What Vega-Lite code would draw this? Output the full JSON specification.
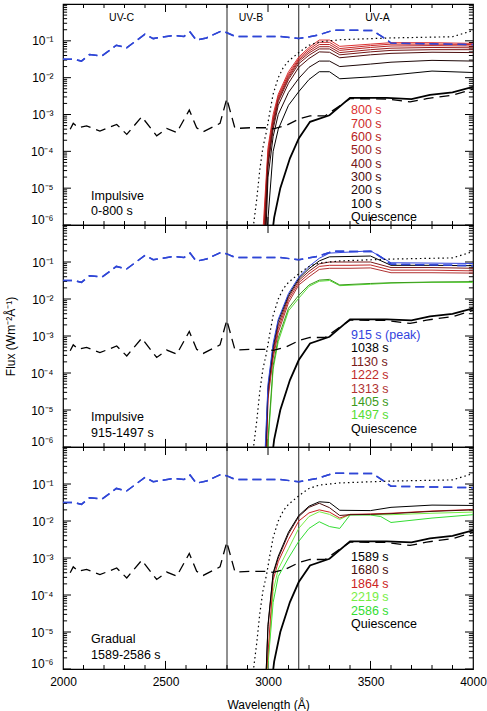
{
"$schema": "https://vega.github.io/schema/vega-lite/v6.json",
"padding": {"left": 3, "top": 2, "right": 0, "bottom": 0},
"background": "white",
"config": {"font": "Liberation Sans", "view": {"stroke": "black", "strokeWidth": 1.2}, "text": {"font": "Liberation Sans"}},
"spacing": 0,
"bounds": "flush",
"datasets": {
"rules": [{"wl": 2800}, {"wl": 3150}],
"ymaj": [{"v":1e-6},{"v":1e-5},{"v":1e-4},{"v":1e-3},{"v":0.01},{"v":0.1}],
"ymin": [{"v":2e-6},{"v":3e-6},{"v":4e-6},{"v":5e-6},{"v":6e-6},{"v":7e-6},{"v":8e-6},{"v":9e-6},{"v":2e-5},{"v":3e-5},{"v":4e-5},{"v":5e-5},{"v":6e-5},{"v":7e-5},{"v":8e-5},{"v":9e-5},{"v":2e-4},{"v":3e-4},{"v":4e-4},{"v":5e-4},{"v":6e-4},{"v":7e-4},{"v":8e-4},{"v":9e-4},{"v":2e-3},{"v":3e-3},{"v":4e-3},{"v":5e-3},{"v":6e-3},{"v":7e-3},{"v":8e-3},{"v":9e-3},{"v":0.02},{"v":0.03},{"v":0.04},{"v":0.05},{"v":0.06},{"v":0.07},{"v":0.08},{"v":0.09},{"v":0.2},{"v":0.3},{"v":0.4},{"v":0.5},{"v":0.6},{"v":0.7},{"v":0.8},{"v":0.9}],
"xmaj": [{"v":2500},{"v":3000},{"v":3500}],
"xmin": [{"v":2100},{"v":2200},{"v":2300},{"v":2400},{"v":2600},{"v":2700},{"v":2800},{"v":2900},{"v":3100},{"v":3200},{"v":3300},{"v":3400},{"v":3600},{"v":3700},{"v":3800},{"v":3900}],
"uv": [{"txt": "UV-C", "wl": 2286, "flux": 0.417}, {"txt": "UV-B", "wl": 2917, "flux": 0.417}, {"txt": "UV-A", "wl": 3534, "flux": 0.417}],
"blue": [{"wl":2000,"flux":0.0316},{"wl":2050,"flux":0.0316},{"wl":2090,"flux":0.0282},{"wl":2130,"flux":0.0427},{"wl":2190,"flux":0.0389},{"wl":2260,"flux":0.0759},{"wl":2310,"flux":0.0646},{"wl":2400,"flux":0.151},{"wl":2440,"flux":0.115},{"wl":2540,"flux":0.141},{"wl":2590,"flux":0.132},{"wl":2620,"flux":0.174},{"wl":2650,"flux":0.105},{"wl":2700,"flux":0.12},{"wl":2770,"flux":0.182},{"wl":2800,"flux":0.166},{"wl":2840,"flux":0.132},{"wl":2900,"flux":0.132},{"wl":3060,"flux":0.132},{"wl":3150,"flux":0.115},{"wl":3240,"flux":0.141},{"wl":3320,"flux":0.195},{"wl":3510,"flux":0.191},{"wl":3560,"flux":0.126},{"wl":3600,"flux":0.0871},{"wl":4000,"flux":0.0794}],
"bdash": [{"wl":2035,"flux":3.98e-4},{"wl":2050,"flux":5.75e-4},{"wl":2075,"flux":4.37e-4},{"wl":2115,"flux":4.9e-4},{"wl":2180,"flux":3.55e-4},{"wl":2262,"flux":5.37e-4},{"wl":2311,"flux":2.88e-4},{"wl":2384,"flux":8.71e-4},{"wl":2457,"flux":2.63e-4},{"wl":2506,"flux":4.17e-4},{"wl":2555,"flux":3.24e-4},{"wl":2616,"flux":1.32e-3},{"wl":2652,"flux":4.37e-4},{"wl":2684,"flux":3.39e-4},{"wl":2766,"flux":5.75e-4},{"wl":2799,"flux":2.69e-3},{"wl":2839,"flux":4.17e-4},{"wl":2912,"flux":4.37e-4},{"wl":2993,"flux":4.37e-4},{"wl":3026,"flux":4.07e-4},{"wl":3091,"flux":5.13e-4},{"wl":3156,"flux":7.76e-4},{"wl":3205,"flux":9.12e-4},{"wl":3278,"flux":9.12e-4},{"wl":3400,"flux":2.69e-3},{"wl":3579,"flux":2.63e-3},{"wl":3693,"flux":2.19e-3},{"wl":3774,"flux":2.69e-3},{"wl":3904,"flux":3.39e-3},{"wl":4000,"flux":4.9e-3}],
"dotted": [{"wl":2925,"flux":6.31e-7},{"wl":2945,"flux":5.01e-6},{"wl":2960,"flux":3.16e-5},{"wl":2975,"flux":1.26e-4},{"wl":2993,"flux":3.55e-4},{"wl":3010,"flux":1.26e-3},{"wl":3025,"flux":3.55e-3},{"wl":3050,"flux":0.01},{"wl":3075,"flux":0.0191},{"wl":3100,"flux":0.0282},{"wl":3150,"flux":0.0479},{"wl":3200,"flux":0.0759},{"wl":3250,"flux":0.0933},{"wl":3350,"flux":0.107},{"wl":3600,"flux":0.12},{"wl":3900,"flux":0.129},{"wl":4000,"flux":0.191}],
"quiet": [{"wl":3015,"flux":3.16e-7},{"wl":3030,"flux":1.58e-6},{"wl":3060,"flux":1e-5},{"wl":3107,"flux":6.46e-5},{"wl":3150,"flux":2.24e-4},{"wl":3205,"flux":6.31e-4},{"wl":3300,"flux":9.55e-4},{"wl":3400,"flux":2.82e-3},{"wl":3580,"flux":2.82e-3},{"wl":3700,"flux":2.63e-3},{"wl":3790,"flux":3.39e-3},{"wl":3900,"flux":3.98e-3},{"wl":4000,"flux":5.62e-3}],
"s1": [
{"t":"800 s","wl":2975,"flux":6.31e-7},{"t":"800 s","wl":3000,"flux":1.26e-4},{"t":"800 s","wl":3025,"flux":1e-3},{"t":"800 s","wl":3050,"flux":3.55e-3},{"t":"800 s","wl":3100,"flux":0.0145},{"t":"800 s","wl":3150,"flux":0.0363},{"t":"800 s","wl":3200,"flux":0.0661},{"t":"800 s","wl":3250,"flux":0.105},{"t":"800 s","wl":3300,"flux":0.105},{"t":"800 s","wl":3350,"flux":0.0708},{"t":"800 s","wl":3500,"flux":0.0813},{"t":"800 s","wl":3600,"flux":0.0891},{"t":"800 s","wl":3800,"flux":0.0891},{"t":"800 s","wl":4000,"flux":0.0851},
{"t":"700 s","wl":2978,"flux":6.31e-7},{"t":"700 s","wl":3000,"flux":1e-4},{"t":"700 s","wl":3025,"flux":7.94e-4},{"t":"700 s","wl":3050,"flux":3.16e-3},{"t":"700 s","wl":3100,"flux":0.0126},{"t":"700 s","wl":3150,"flux":0.0331},{"t":"700 s","wl":3200,"flux":0.0589},{"t":"700 s","wl":3250,"flux":0.0912},{"t":"700 s","wl":3300,"flux":0.0912},{"t":"700 s","wl":3350,"flux":0.0617},{"t":"700 s","wl":3500,"flux":0.0741},{"t":"700 s","wl":3600,"flux":0.0813},{"t":"700 s","wl":3800,"flux":0.0813},{"t":"700 s","wl":4000,"flux":0.0794},
{"t":"600 s","wl":2980,"flux":6.31e-7},{"t":"600 s","wl":3000,"flux":7.94e-5},{"t":"600 s","wl":3025,"flux":7.08e-4},{"t":"600 s","wl":3050,"flux":2.82e-3},{"t":"600 s","wl":3100,"flux":0.0112},{"t":"600 s","wl":3150,"flux":0.0302},{"t":"600 s","wl":3200,"flux":0.0525},{"t":"600 s","wl":3250,"flux":0.0794},{"t":"600 s","wl":3300,"flux":0.0794},{"t":"600 s","wl":3350,"flux":0.055},{"t":"600 s","wl":3500,"flux":0.0661},{"t":"600 s","wl":3600,"flux":0.0724},{"t":"600 s","wl":3800,"flux":0.0741},{"t":"600 s","wl":4000,"flux":0.0724},
{"t":"500 s","wl":2982,"flux":6.31e-7},{"t":"500 s","wl":3000,"flux":6.31e-5},{"t":"500 s","wl":3025,"flux":6.31e-4},{"t":"500 s","wl":3050,"flux":2.51e-3},{"t":"500 s","wl":3100,"flux":0.01},{"t":"500 s","wl":3150,"flux":0.0275},{"t":"500 s","wl":3200,"flux":0.0468},{"t":"500 s","wl":3250,"flux":0.0692},{"t":"500 s","wl":3300,"flux":0.0692},{"t":"500 s","wl":3350,"flux":0.0479},{"t":"500 s","wl":3500,"flux":0.0575},{"t":"500 s","wl":3600,"flux":0.0631},{"t":"500 s","wl":3800,"flux":0.0661},{"t":"500 s","wl":4000,"flux":0.0646},
{"t":"400 s","wl":2984,"flux":6.31e-7},{"t":"400 s","wl":3000,"flux":5.01e-5},{"t":"400 s","wl":3025,"flux":5.01e-4},{"t":"400 s","wl":3050,"flux":2.24e-3},{"t":"400 s","wl":3100,"flux":8.91e-3},{"t":"400 s","wl":3150,"flux":0.024},{"t":"400 s","wl":3200,"flux":0.0407},{"t":"400 s","wl":3250,"flux":0.0603},{"t":"400 s","wl":3300,"flux":0.0603},{"t":"400 s","wl":3350,"flux":0.0417},{"t":"400 s","wl":3500,"flux":0.0501},{"t":"400 s","wl":3600,"flux":0.055},{"t":"400 s","wl":3800,"flux":0.0575},{"t":"400 s","wl":4000,"flux":0.0575},
{"t":"300 s","wl":2986,"flux":6.31e-7},{"t":"300 s","wl":3000,"flux":3.98e-5},{"t":"300 s","wl":3025,"flux":3.98e-4},{"t":"300 s","wl":3050,"flux":1.78e-3},{"t":"300 s","wl":3100,"flux":7.08e-3},{"t":"300 s","wl":3150,"flux":0.0191},{"t":"300 s","wl":3200,"flux":0.0331},{"t":"300 s","wl":3250,"flux":0.0501},{"t":"300 s","wl":3300,"flux":0.049},{"t":"300 s","wl":3350,"flux":0.0347},{"t":"300 s","wl":3500,"flux":0.0417},{"t":"300 s","wl":3600,"flux":0.0457},{"t":"300 s","wl":3800,"flux":0.049},{"t":"300 s","wl":4000,"flux":0.0479},
{"t":"200 s","wl":2990,"flux":6.31e-7},{"t":"200 s","wl":3000,"flux":2e-5},{"t":"200 s","wl":3025,"flux":2.51e-4},{"t":"200 s","wl":3050,"flux":1e-3},{"t":"200 s","wl":3100,"flux":3.98e-3},{"t":"200 s","wl":3150,"flux":9.55e-3},{"t":"200 s","wl":3200,"flux":0.0191},{"t":"200 s","wl":3250,"flux":0.0282},{"t":"200 s","wl":3300,"flux":0.0282},{"t":"200 s","wl":3350,"flux":0.02},{"t":"200 s","wl":3500,"flux":0.0234},{"t":"200 s","wl":3600,"flux":0.0263},{"t":"200 s","wl":3800,"flux":0.0295},{"t":"200 s","wl":4000,"flux":0.0282},
{"t":"100 s","wl":2995,"flux":6.31e-7},{"t":"100 s","wl":3025,"flux":1e-4},{"t":"100 s","wl":3050,"flux":3.98e-4},{"t":"100 s","wl":3100,"flux":1.78e-3},{"t":"100 s","wl":3150,"flux":4.17e-3},{"t":"100 s","wl":3200,"flux":8.91e-3},{"t":"100 s","wl":3250,"flux":0.0145},{"t":"100 s","wl":3300,"flux":0.0145},{"t":"100 s","wl":3350,"flux":9.33e-3},{"t":"100 s","wl":3500,"flux":0.0105},{"t":"100 s","wl":3600,"flux":0.0117},{"t":"100 s","wl":3800,"flux":0.0151},{"t":"100 s","wl":4000,"flux":0.0138}
],
"s2": [
{"t":"1497 s","wl":2997,"flux":6.31e-7},{"t":"1497 s","wl":3025,"flux":1.26e-4},{"t":"1497 s","wl":3050,"flux":7.08e-4},{"t":"1497 s","wl":3100,"flux":4.79e-3},{"t":"1497 s","wl":3150,"flux":0.0105},{"t":"1497 s","wl":3200,"flux":0.0219},{"t":"1497 s","wl":3250,"flux":0.0302},{"t":"1497 s","wl":3300,"flux":0.0316},{"t":"1497 s","wl":3350,"flux":0.0229},{"t":"1497 s","wl":3500,"flux":0.0251},{"t":"1497 s","wl":3600,"flux":0.0269},{"t":"1497 s","wl":3800,"flux":0.0282},{"t":"1497 s","wl":4000,"flux":0.0282},
{"t":"1405 s","wl":2995,"flux":6.31e-7},{"t":"1405 s","wl":3025,"flux":1.58e-4},{"t":"1405 s","wl":3050,"flux":8.91e-4},{"t":"1405 s","wl":3100,"flux":5.62e-3},{"t":"1405 s","wl":3150,"flux":0.0126},{"t":"1405 s","wl":3200,"flux":0.024},{"t":"1405 s","wl":3250,"flux":0.0324},{"t":"1405 s","wl":3300,"flux":0.0339},{"t":"1405 s","wl":3350,"flux":0.024},{"t":"1405 s","wl":3500,"flux":0.0263},{"t":"1405 s","wl":3600,"flux":0.0275},{"t":"1405 s","wl":3800,"flux":0.0288},{"t":"1405 s","wl":4000,"flux":0.0295},
{"t":"1313 s","wl":2993,"flux":6.31e-7},{"t":"1313 s","wl":3000,"flux":2e-5},{"t":"1313 s","wl":3025,"flux":2.51e-4},{"t":"1313 s","wl":3050,"flux":1.26e-3},{"t":"1313 s","wl":3100,"flux":7.94e-3},{"t":"1313 s","wl":3150,"flux":0.024},{"t":"1313 s","wl":3200,"flux":0.0398},{"t":"1313 s","wl":3250,"flux":0.0631},{"t":"1313 s","wl":3300,"flux":0.0676},{"t":"1313 s","wl":3400,"flux":0.0676},{"t":"1313 s","wl":3500,"flux":0.0692},{"t":"1313 s","wl":3600,"flux":0.0513},{"t":"1313 s","wl":3800,"flux":0.0513},{"t":"1313 s","wl":4000,"flux":0.0501},
{"t":"1222 s","wl":2991,"flux":6.31e-7},{"t":"1222 s","wl":3000,"flux":2.51e-5},{"t":"1222 s","wl":3025,"flux":3.16e-4},{"t":"1222 s","wl":3050,"flux":1.58e-3},{"t":"1222 s","wl":3100,"flux":9.55e-3},{"t":"1222 s","wl":3150,"flux":0.0275},{"t":"1222 s","wl":3200,"flux":0.0479},{"t":"1222 s","wl":3250,"flux":0.0759},{"t":"1222 s","wl":3300,"flux":0.0813},{"t":"1222 s","wl":3400,"flux":0.0813},{"t":"1222 s","wl":3500,"flux":0.0832},{"t":"1222 s","wl":3600,"flux":0.0603},{"t":"1222 s","wl":3800,"flux":0.0603},{"t":"1222 s","wl":4000,"flux":0.0575},
{"t":"1130 s","wl":2989,"flux":6.31e-7},{"t":"1130 s","wl":3000,"flux":3.16e-5},{"t":"1130 s","wl":3025,"flux":3.98e-4},{"t":"1130 s","wl":3050,"flux":2e-3},{"t":"1130 s","wl":3100,"flux":0.0112},{"t":"1130 s","wl":3150,"flux":0.0316},{"t":"1130 s","wl":3200,"flux":0.0562},{"t":"1130 s","wl":3250,"flux":0.0891},{"t":"1130 s","wl":3300,"flux":0.1},{"t":"1130 s","wl":3400,"flux":0.1},{"t":"1130 s","wl":3500,"flux":0.1},{"t":"1130 s","wl":3600,"flux":0.0708},{"t":"1130 s","wl":3800,"flux":0.0708},{"t":"1130 s","wl":4000,"flux":0.0676},
{"t":"1038 s","wl":2987,"flux":6.31e-7},{"t":"1038 s","wl":3000,"flux":3.98e-5},{"t":"1038 s","wl":3025,"flux":5.01e-4},{"t":"1038 s","wl":3050,"flux":2.51e-3},{"t":"1038 s","wl":3100,"flux":0.0126},{"t":"1038 s","wl":3150,"flux":0.0355},{"t":"1038 s","wl":3200,"flux":0.0661},{"t":"1038 s","wl":3250,"flux":0.107},{"t":"1038 s","wl":3300,"flux":0.138},{"t":"1038 s","wl":3400,"flux":0.141},{"t":"1038 s","wl":3500,"flux":0.145},{"t":"1038 s","wl":3600,"flux":0.0813},{"t":"1038 s","wl":3800,"flux":0.0813},{"t":"1038 s","wl":4000,"flux":0.0794},
{"t":"915 s (peak)","wl":2985,"flux":6.31e-7},{"t":"915 s (peak)","wl":3000,"flux":5.01e-5},{"t":"915 s (peak)","wl":3025,"flux":6.31e-4},{"t":"915 s (peak)","wl":3050,"flux":2.82e-3},{"t":"915 s (peak)","wl":3100,"flux":0.0141},{"t":"915 s (peak)","wl":3150,"flux":0.0389},{"t":"915 s (peak)","wl":3200,"flux":0.0759},{"t":"915 s (peak)","wl":3250,"flux":0.126},{"t":"915 s (peak)","wl":3300,"flux":0.174},{"t":"915 s (peak)","wl":3400,"flux":0.186},{"t":"915 s (peak)","wl":3500,"flux":0.2},{"t":"915 s (peak)","wl":3600,"flux":0.0955},{"t":"915 s (peak)","wl":3800,"flux":0.0933},{"t":"915 s (peak)","wl":4000,"flux":0.0912}
],
"s3": [
{"t":"2586 s","wl":2995,"flux":6.31e-7},{"t":"2586 s","wl":3025,"flux":6.31e-5},{"t":"2586 s","wl":3050,"flux":3.16e-4},{"t":"2586 s","wl":3100,"flux":1e-3},{"t":"2586 s","wl":3150,"flux":2.82e-3},{"t":"2586 s","wl":3200,"flux":6.31e-3},{"t":"2586 s","wl":3250,"flux":9.55e-3},{"t":"2586 s","wl":3300,"flux":7.08e-3},{"t":"2586 s","wl":3350,"flux":6.31e-3},{"t":"2586 s","wl":3400,"flux":0.0145},{"t":"2586 s","wl":3500,"flux":0.0145},{"t":"2586 s","wl":3550,"flux":0.0132},{"t":"2586 s","wl":3600,"flux":9.12e-3},{"t":"2586 s","wl":3800,"flux":0.012},{"t":"2586 s","wl":4000,"flux":0.0148},
{"t":"2219 s","wl":2994,"flux":6.31e-7},{"t":"2219 s","wl":3025,"flux":1.26e-4},{"t":"2219 s","wl":3050,"flux":5.01e-4},{"t":"2219 s","wl":3100,"flux":1.78e-3},{"t":"2219 s","wl":3150,"flux":6.31e-3},{"t":"2219 s","wl":3200,"flux":0.0132},{"t":"2219 s","wl":3250,"flux":0.0178},{"t":"2219 s","wl":3300,"flux":0.0151},{"t":"2219 s","wl":3350,"flux":0.011},{"t":"2219 s","wl":3400,"flux":0.0151},{"t":"2219 s","wl":3500,"flux":0.0148},{"t":"2219 s","wl":3600,"flux":0.0148},{"t":"2219 s","wl":3800,"flux":0.0162},{"t":"2219 s","wl":4000,"flux":0.0174},
{"t":"1864 s","wl":2992,"flux":6.31e-7},{"t":"1864 s","wl":3025,"flux":2.51e-4},{"t":"1864 s","wl":3050,"flux":7.94e-4},{"t":"1864 s","wl":3100,"flux":3.16e-3},{"t":"1864 s","wl":3150,"flux":0.01},{"t":"1864 s","wl":3200,"flux":0.0166},{"t":"1864 s","wl":3250,"flux":0.02},{"t":"1864 s","wl":3300,"flux":0.0174},{"t":"1864 s","wl":3350,"flux":0.012},{"t":"1864 s","wl":3400,"flux":0.0151},{"t":"1864 s","wl":3500,"flux":0.0155},{"t":"1864 s","wl":3600,"flux":0.0162},{"t":"1864 s","wl":3800,"flux":0.0186},{"t":"1864 s","wl":4000,"flux":0.0204},
{"t":"1680 s","wl":2990,"flux":6.31e-7},{"t":"1680 s","wl":3000,"flux":1.41e-5},{"t":"1680 s","wl":3025,"flux":3.55e-4},{"t":"1680 s","wl":3050,"flux":1e-3},{"t":"1680 s","wl":3100,"flux":4.47e-3},{"t":"1680 s","wl":3150,"flux":0.0132},{"t":"1680 s","wl":3200,"flux":0.0234},{"t":"1680 s","wl":3250,"flux":0.0302},{"t":"1680 s","wl":3300,"flux":0.0229},{"t":"1680 s","wl":3350,"flux":0.0141},{"t":"1680 s","wl":3400,"flux":0.0148},{"t":"1680 s","wl":3500,"flux":0.0151},{"t":"1680 s","wl":3600,"flux":0.0158},{"t":"1680 s","wl":3800,"flux":0.0182},{"t":"1680 s","wl":4000,"flux":0.02},
{"t":"1589 s","wl":2990,"flux":6.31e-7},{"t":"1589 s","wl":3000,"flux":1.58e-5},{"t":"1589 s","wl":3025,"flux":3.98e-4},{"t":"1589 s","wl":3050,"flux":1.12e-3},{"t":"1589 s","wl":3100,"flux":5.01e-3},{"t":"1589 s","wl":3150,"flux":0.0141},{"t":"1589 s","wl":3200,"flux":0.0251},{"t":"1589 s","wl":3250,"flux":0.0331},{"t":"1589 s","wl":3300,"flux":0.0316},{"t":"1589 s","wl":3350,"flux":0.0195},{"t":"1589 s","wl":3500,"flux":0.0191},{"t":"1589 s","wl":3600,"flux":0.0234},{"t":"1589 s","wl":3800,"flux":0.0269},{"t":"1589 s","wl":4000,"flux":0.0263}
],
"lab1": [{"t":"800 s","wl":3405,"flux":1.35e-3},{"t":"700 s","wl":3405,"flux":5.62e-4},{"t":"600 s","wl":3405,"flux":2.51e-4},{"t":"500 s","wl":3405,"flux":1.1e-4},{"t":"400 s","wl":3405,"flux":4.57e-5},{"t":"300 s","wl":3405,"flux":2.04e-5},{"t":"200 s","wl":3405,"flux":9.12e-6},{"t":"100 s","wl":3405,"flux":3.8e-6},{"t":"Quiescence","wl":3405,"flux":1.7e-6}],
"lab2": [{"t":"915 s (peak)","wl":3405,"flux":1.07e-3},{"t":"1038 s","wl":3405,"flux":4.68e-4},{"t":"1130 s","wl":3405,"flux":2.04e-4},{"t":"1222 s","wl":3405,"flux":8.71e-5},{"t":"1313 s","wl":3405,"flux":3.8e-5},{"t":"1405 s","wl":3405,"flux":1.66e-5},{"t":"1497 s","wl":3405,"flux":7.24e-6},{"t":"Quiescence","wl":3405,"flux":3.16e-6}],
"lab3": [{"t":"1589 s","wl":3405,"flux":1.07e-3},{"t":"1680 s","wl":3405,"flux":4.68e-4},{"t":"1864 s","wl":3405,"flux":2.0e-4},{"t":"2219 s","wl":3405,"flux":8.71e-5},{"t":"2586 s","wl":3405,"flux":3.8e-5},{"t":"Quiescence","wl":3405,"flux":1.66e-5}],
"note1": [{"txt":"Impulsive","wl":2137,"flux":6.31e-6},{"txt":"0-800 s","wl":2137,"flux":2.45e-6}],
"note2": [{"txt":"Impulsive","wl":2137,"flux":6.31e-6},{"txt":"915-1497 s","wl":2137,"flux":2.45e-6}],
"note3": [{"txt":"Gradual","wl":2137,"flux":6.31e-6},{"txt":"1589-2586 s","wl":2137,"flux":2.45e-6}]
},
"vconcat": [
{
"width": 410, "height": 221,
"layer": [
{"data": {"name": "blue"}, "mark": {"type": "line", "color": "#2f46d6", "strokeWidth": 1.5, "strokeDash": [9, 5], "clip": true}, "encoding": {"x": {"field": "wl", "type": "quantitative", "scale": {"domain": [2000, 4000], "nice": false}, "axis": {"orient": "bottom", "values": [2000, 2500, 3000, 3500, 4000], "labels": false, "ticks": false, "domain": false, "grid": false, "title": null}}, "y": {"field": "flux", "type": "quantitative", "scale": {"type": "log", "domain": [1e-6, 1], "nice": false}, "axis": {"orient": "left", "values": [1e-6, 1e-5, 1e-4, 1e-3, 0.01, 0.1], "labelExpr": "'10' + ['⁰','⁻¹','⁻²','⁻³','⁻⁴','⁻⁵','⁻⁶'][-round(log(datum.value)/LN10)]", "labelOverlap": false, "labelBound": false, "labelFontSize": 12, "labelColor": "black", "labelPadding": 10, "labelOffset": {"condition": {"test": "datum.value < 1.5e-6", "value": -6}, "value": 0}, "ticks": false, "domain": false, "grid": false, "title": null}}}},
{"data": {"name": "rules"}, "mark": {"type": "rule", "color": "#222222", "strokeWidth": 1}, "encoding": {"x": {"field": "wl", "type": "quantitative"}}},
{"data": {"name": "ymaj"}, "mark": {"type": "rule", "color": "black", "strokeWidth": 1}, "encoding": {"x": {"datum": 2000, "type": "quantitative"}, "x2": {"datum": 2039}, "y": {"field": "v", "type": "quantitative"}}},
{"data": {"name": "ymin"}, "mark": {"type": "rule", "color": "black", "strokeWidth": 1}, "encoding": {"x": {"datum": 2000, "type": "quantitative"}, "x2": {"datum": 2020}, "y": {"field": "v", "type": "quantitative"}}},
{"data": {"name": "ymaj"}, "mark": {"type": "rule", "color": "black", "strokeWidth": 1}, "encoding": {"x": {"datum": 4000, "type": "quantitative"}, "x2": {"datum": 3961}, "y": {"field": "v", "type": "quantitative"}}},
{"data": {"name": "ymin"}, "mark": {"type": "rule", "color": "black", "strokeWidth": 1}, "encoding": {"x": {"datum": 4000, "type": "quantitative"}, "x2": {"datum": 3980}, "y": {"field": "v", "type": "quantitative"}}},
{"data": {"name": "xmaj"}, "mark": {"type": "rule", "color": "black", "strokeWidth": 1}, "encoding": {"x": {"field": "v", "type": "quantitative"}, "y": {"datum": 1e-6, "type": "quantitative"}, "y2": {"datum": 1.65e-6}}},
{"data": {"name": "xmin"}, "mark": {"type": "rule", "color": "black", "strokeWidth": 1}, "encoding": {"x": {"field": "v", "type": "quantitative"}, "y": {"datum": 1e-6, "type": "quantitative"}, "y2": {"datum": 1.28e-6}}},
{"data": {"name": "xmaj"}, "mark": {"type": "rule", "color": "black", "strokeWidth": 1}, "encoding": {"x": {"field": "v", "type": "quantitative"}, "y": {"datum": 1, "type": "quantitative"}, "y2": {"datum": 0.607}}},
{"data": {"name": "xmin"}, "mark": {"type": "rule", "color": "black", "strokeWidth": 1}, "encoding": {"x": {"field": "v", "type": "quantitative"}, "y": {"datum": 1, "type": "quantitative"}, "y2": {"datum": 0.779}}},
{"data": {"name": "s1"}, "mark": {"type": "line", "strokeWidth": 1, "clip": true}, "encoding": {"x": {"field": "wl", "type": "quantitative"}, "y": {"field": "flux", "type": "quantitative"}, "color": {"field": "t", "type": "nominal", "legend": null, "scale": {"domain": ["100 s","200 s","300 s","400 s","500 s","600 s","700 s","800 s","915 s (peak)","1038 s","1130 s","1222 s","1313 s","1405 s","1497 s","1589 s","1680 s","1864 s","2219 s","2586 s","Quiescence"], "range": ["#000000","#1c0606","#4d0d0d","#741616","#991c1c","#b82222","#cc2a2a","#dd3333","#3344dd","#000000","#7a1a1a","#c02a2a","#b03232","#3c9a1c","#55dd33","#000000","#4a0c0c","#cc2222","#77ee44","#33dd33","#000000"]}}}},
{"data": {"name": "blue"}, "mark": {"type": "line", "color": "#2f46d6", "strokeWidth": 1.5, "strokeDash": [9, 5], "clip": true}, "encoding": {"x": {"field": "wl", "type": "quantitative"}, "y": {"field": "flux", "type": "quantitative"}}},
{"data": {"name": "bdash"}, "mark": {"type": "line", "color": "black", "strokeWidth": 1.3, "strokeDash": [10, 6], "clip": true}, "encoding": {"x": {"field": "wl", "type": "quantitative"}, "y": {"field": "flux", "type": "quantitative"}}},
{"data": {"name": "dotted"}, "mark": {"type": "line", "color": "black", "strokeWidth": 1.2, "strokeDash": [1.5, 3], "clip": true}, "encoding": {"x": {"field": "wl", "type": "quantitative"}, "y": {"field": "flux", "type": "quantitative"}}},
{"data": {"name": "quiet"}, "mark": {"type": "line", "color": "black", "strokeWidth": 1.8, "clip": true}, "encoding": {"x": {"field": "wl", "type": "quantitative"}, "y": {"field": "flux", "type": "quantitative"}}},
{"data": {"name": "lab1"}, "mark": {"type": "text", "align": "left", "baseline": "middle", "fontSize": 12.5}, "encoding": {"x": {"field": "wl", "type": "quantitative"}, "y": {"field": "flux", "type": "quantitative"}, "text": {"field": "t"}, "color": {"field": "t", "type": "nominal", "legend": null}}},
{"data": {"name": "note1"}, "mark": {"type": "text", "align": "left", "baseline": "middle", "fontSize": 12.5, "color": "black"}, "encoding": {"x": {"field": "wl", "type": "quantitative"}, "y": {"field": "flux", "type": "quantitative"}, "text": {"field": "txt"}}},
{"data": {"name": "uv"}, "mark": {"type": "text", "align": "center", "baseline": "middle", "fontSize": 10.5, "color": "black"}, "encoding": {"x": {"field": "wl", "type": "quantitative"}, "y": {"field": "flux", "type": "quantitative"}, "text": {"field": "txt"}}}
]
},
{
"width": 410, "height": 222,
"layer": [
{"data": {"name": "blue"}, "mark": {"type": "line", "color": "#2f46d6", "strokeWidth": 1.5, "strokeDash": [9, 5], "clip": true}, "encoding": {"x": {"field": "wl", "type": "quantitative", "scale": {"domain": [2000, 4000], "nice": false}, "axis": {"orient": "bottom", "values": [2000, 2500, 3000, 3500, 4000], "labels": false, "ticks": false, "domain": false, "grid": false, "title": null}}, "y": {"field": "flux", "type": "quantitative", "scale": {"type": "log", "domain": [1e-6, 1], "nice": false}, "axis": {"orient": "left", "values": [1e-6, 1e-5, 1e-4, 1e-3, 0.01, 0.1], "labelExpr": "'10' + ['⁰','⁻¹','⁻²','⁻³','⁻⁴','⁻⁵','⁻⁶'][-round(log(datum.value)/LN10)]", "labelOverlap": false, "labelBound": false, "labelFontSize": 12, "labelColor": "black", "labelPadding": 10, "labelOffset": {"condition": {"test": "datum.value < 1.5e-6", "value": -6}, "value": 0}, "ticks": false, "domain": false, "grid": false, "title": "Flux (Wm⁻²Å⁻¹)", "titleFontSize": 12, "titleFontWeight": "normal", "titleColor": "black", "titlePadding": 13}}}},
{"data": {"name": "rules"}, "mark": {"type": "rule", "color": "#222222", "strokeWidth": 1}, "encoding": {"x": {"field": "wl", "type": "quantitative"}}},
{"data": {"name": "ymaj"}, "mark": {"type": "rule", "color": "black", "strokeWidth": 1}, "encoding": {"x": {"datum": 2000, "type": "quantitative"}, "x2": {"datum": 2039}, "y": {"field": "v", "type": "quantitative"}}},
{"data": {"name": "ymin"}, "mark": {"type": "rule", "color": "black", "strokeWidth": 1}, "encoding": {"x": {"datum": 2000, "type": "quantitative"}, "x2": {"datum": 2020}, "y": {"field": "v", "type": "quantitative"}}},
{"data": {"name": "ymaj"}, "mark": {"type": "rule", "color": "black", "strokeWidth": 1}, "encoding": {"x": {"datum": 4000, "type": "quantitative"}, "x2": {"datum": 3961}, "y": {"field": "v", "type": "quantitative"}}},
{"data": {"name": "ymin"}, "mark": {"type": "rule", "color": "black", "strokeWidth": 1}, "encoding": {"x": {"datum": 4000, "type": "quantitative"}, "x2": {"datum": 3980}, "y": {"field": "v", "type": "quantitative"}}},
{"data": {"name": "xmaj"}, "mark": {"type": "rule", "color": "black", "strokeWidth": 1}, "encoding": {"x": {"field": "v", "type": "quantitative"}, "y": {"datum": 1e-6, "type": "quantitative"}, "y2": {"datum": 1.65e-6}}},
{"data": {"name": "xmin"}, "mark": {"type": "rule", "color": "black", "strokeWidth": 1}, "encoding": {"x": {"field": "v", "type": "quantitative"}, "y": {"datum": 1e-6, "type": "quantitative"}, "y2": {"datum": 1.28e-6}}},
{"data": {"name": "xmaj"}, "mark": {"type": "rule", "color": "black", "strokeWidth": 1}, "encoding": {"x": {"field": "v", "type": "quantitative"}, "y": {"datum": 1, "type": "quantitative"}, "y2": {"datum": 0.607}}},
{"data": {"name": "xmin"}, "mark": {"type": "rule", "color": "black", "strokeWidth": 1}, "encoding": {"x": {"field": "v", "type": "quantitative"}, "y": {"datum": 1, "type": "quantitative"}, "y2": {"datum": 0.779}}},
{"data": {"name": "s2"}, "mark": {"type": "line", "strokeWidth": 1, "clip": true}, "encoding": {"x": {"field": "wl", "type": "quantitative"}, "y": {"field": "flux", "type": "quantitative"}, "color": {"field": "t", "type": "nominal", "legend": null}}},
{"data": {"name": "blue"}, "mark": {"type": "line", "color": "#2f46d6", "strokeWidth": 1.5, "strokeDash": [9, 5], "clip": true}, "encoding": {"x": {"field": "wl", "type": "quantitative"}, "y": {"field": "flux", "type": "quantitative"}}},
{"data": {"name": "bdash"}, "mark": {"type": "line", "color": "black", "strokeWidth": 1.3, "strokeDash": [10, 6], "clip": true}, "encoding": {"x": {"field": "wl", "type": "quantitative"}, "y": {"field": "flux", "type": "quantitative"}}},
{"data": {"name": "dotted"}, "mark": {"type": "line", "color": "black", "strokeWidth": 1.2, "strokeDash": [1.5, 3], "clip": true}, "encoding": {"x": {"field": "wl", "type": "quantitative"}, "y": {"field": "flux", "type": "quantitative"}}},
{"data": {"name": "quiet"}, "mark": {"type": "line", "color": "black", "strokeWidth": 1.8, "clip": true}, "encoding": {"x": {"field": "wl", "type": "quantitative"}, "y": {"field": "flux", "type": "quantitative"}}},
{"data": {"name": "lab2"}, "mark": {"type": "text", "align": "left", "baseline": "middle", "fontSize": 12.5}, "encoding": {"x": {"field": "wl", "type": "quantitative"}, "y": {"field": "flux", "type": "quantitative"}, "text": {"field": "t"}, "color": {"field": "t", "type": "nominal", "legend": null}}},
{"data": {"name": "note2"}, "mark": {"type": "text", "align": "left", "baseline": "middle", "fontSize": 12.5, "color": "black"}, "encoding": {"x": {"field": "wl", "type": "quantitative"}, "y": {"field": "flux", "type": "quantitative"}, "text": {"field": "txt"}}}
]
},
{
"width": 410, "height": 222,
"layer": [
{"data": {"name": "blue"}, "mark": {"type": "line", "color": "#2f46d6", "strokeWidth": 1.5, "strokeDash": [9, 5], "clip": true}, "encoding": {"x": {"field": "wl", "type": "quantitative", "scale": {"domain": [2000, 4000], "nice": false}, "axis": {"orient": "bottom", "values": [2000, 2500, 3000, 3500, 4000], "format": "d", "labelFlush": false, "labelOverlap": false, "labelFontSize": 12, "labelColor": "black", "labelPadding": 7, "ticks": false, "domain": false, "grid": false, "title": "Wavelength (Å)", "titleFontSize": 12, "titleFontWeight": "normal", "titleColor": "black", "titlePadding": 12}}, "y": {"field": "flux", "type": "quantitative", "scale": {"type": "log", "domain": [1e-6, 1], "nice": false}, "axis": {"orient": "left", "values": [1e-6, 1e-5, 1e-4, 1e-3, 0.01, 0.1], "labelExpr": "'10' + ['⁰','⁻¹','⁻²','⁻³','⁻⁴','⁻⁵','⁻⁶'][-round(log(datum.value)/LN10)]", "labelOverlap": false, "labelBound": false, "labelFontSize": 12, "labelColor": "black", "labelPadding": 10, "labelOffset": {"condition": {"test": "datum.value < 1.5e-6", "value": -6}, "value": 0}, "ticks": false, "domain": false, "grid": false, "title": null}}}},
{"data": {"name": "rules"}, "mark": {"type": "rule", "color": "#222222", "strokeWidth": 1}, "encoding": {"x": {"field": "wl", "type": "quantitative"}}},
{"data": {"name": "ymaj"}, "mark": {"type": "rule", "color": "black", "strokeWidth": 1}, "encoding": {"x": {"datum": 2000, "type": "quantitative"}, "x2": {"datum": 2039}, "y": {"field": "v", "type": "quantitative"}}},
{"data": {"name": "ymin"}, "mark": {"type": "rule", "color": "black", "strokeWidth": 1}, "encoding": {"x": {"datum": 2000, "type": "quantitative"}, "x2": {"datum": 2020}, "y": {"field": "v", "type": "quantitative"}}},
{"data": {"name": "ymaj"}, "mark": {"type": "rule", "color": "black", "strokeWidth": 1}, "encoding": {"x": {"datum": 4000, "type": "quantitative"}, "x2": {"datum": 3961}, "y": {"field": "v", "type": "quantitative"}}},
{"data": {"name": "ymin"}, "mark": {"type": "rule", "color": "black", "strokeWidth": 1}, "encoding": {"x": {"datum": 4000, "type": "quantitative"}, "x2": {"datum": 3980}, "y": {"field": "v", "type": "quantitative"}}},
{"data": {"name": "xmaj"}, "mark": {"type": "rule", "color": "black", "strokeWidth": 1}, "encoding": {"x": {"field": "v", "type": "quantitative"}, "y": {"datum": 1e-6, "type": "quantitative"}, "y2": {"datum": 1.65e-6}}},
{"data": {"name": "xmin"}, "mark": {"type": "rule", "color": "black", "strokeWidth": 1}, "encoding": {"x": {"field": "v", "type": "quantitative"}, "y": {"datum": 1e-6, "type": "quantitative"}, "y2": {"datum": 1.28e-6}}},
{"data": {"name": "xmaj"}, "mark": {"type": "rule", "color": "black", "strokeWidth": 1}, "encoding": {"x": {"field": "v", "type": "quantitative"}, "y": {"datum": 1, "type": "quantitative"}, "y2": {"datum": 0.607}}},
{"data": {"name": "xmin"}, "mark": {"type": "rule", "color": "black", "strokeWidth": 1}, "encoding": {"x": {"field": "v", "type": "quantitative"}, "y": {"datum": 1, "type": "quantitative"}, "y2": {"datum": 0.779}}},
{"data": {"name": "s3"}, "mark": {"type": "line", "strokeWidth": 1, "clip": true}, "encoding": {"x": {"field": "wl", "type": "quantitative"}, "y": {"field": "flux", "type": "quantitative"}, "color": {"field": "t", "type": "nominal", "legend": null}}},
{"data": {"name": "blue"}, "mark": {"type": "line", "color": "#2f46d6", "strokeWidth": 1.5, "strokeDash": [9, 5], "clip": true}, "encoding": {"x": {"field": "wl", "type": "quantitative"}, "y": {"field": "flux", "type": "quantitative"}}},
{"data": {"name": "bdash"}, "mark": {"type": "line", "color": "black", "strokeWidth": 1.3, "strokeDash": [10, 6], "clip": true}, "encoding": {"x": {"field": "wl", "type": "quantitative"}, "y": {"field": "flux", "type": "quantitative"}}},
{"data": {"name": "dotted"}, "mark": {"type": "line", "color": "black", "strokeWidth": 1.2, "strokeDash": [1.5, 3], "clip": true}, "encoding": {"x": {"field": "wl", "type": "quantitative"}, "y": {"field": "flux", "type": "quantitative"}}},
{"data": {"name": "quiet"}, "mark": {"type": "line", "color": "black", "strokeWidth": 1.8, "clip": true}, "encoding": {"x": {"field": "wl", "type": "quantitative"}, "y": {"field": "flux", "type": "quantitative"}}},
{"data": {"name": "lab3"}, "mark": {"type": "text", "align": "left", "baseline": "middle", "fontSize": 12.5}, "encoding": {"x": {"field": "wl", "type": "quantitative"}, "y": {"field": "flux", "type": "quantitative"}, "text": {"field": "t"}, "color": {"field": "t", "type": "nominal", "legend": null}}},
{"data": {"name": "note3"}, "mark": {"type": "text", "align": "left", "baseline": "middle", "fontSize": 12.5, "color": "black"}, "encoding": {"x": {"field": "wl", "type": "quantitative"}, "y": {"field": "flux", "type": "quantitative"}, "text": {"field": "txt"}}}
]
}
]
}
